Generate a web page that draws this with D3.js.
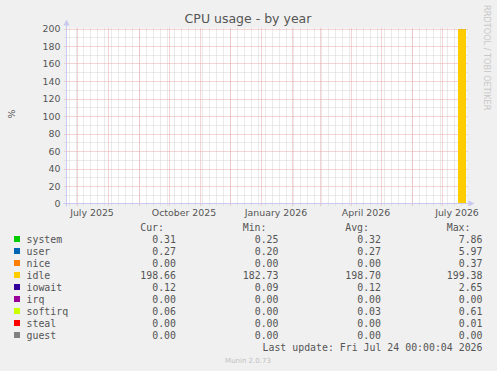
<!DOCTYPE html>
<html>
<head>
<meta charset="utf-8">
<script src="https://cdn.jsdelivr.net/npm/d3@7"></script>
<style>
  html, body { margin: 0; padding: 0; background: #f0f0f0; }
  svg { display: block; }
</style>
</head>
<body>
<div id="chart"></div>
<script>
// Series names and colours (stack order)
const seriesNames = ["system", "user", "nice", "idle", "iowait", "irq", "softirq", "steal", "guest"];
const seriesColors = ["#00cc00", "#0066b3", "#ff8000", "#ffcc00", "#330099", "#990099", "#ccff00", "#ff0000", "#808080"];

// Daily bins that hold data (last eight days)
const binDays = ["2026-07-17", "2026-07-18", "2026-07-19", "2026-07-20", "2026-07-21", "2026-07-22", "2026-07-23", "2026-07-24"];
const systemVals  = [0.36, 0.33, 0.31, 0.30, 0.32, 0.31, 0.33, 0.31];
const userVals    = [0.30, 0.28, 0.26, 0.27, 0.26, 0.27, 0.28, 0.27];
const niceVals    = [0.01, 0.00, 0.00, 0.00, 0.00, 0.00, 0.00, 0.00];
const idleVals    = [198.42, 198.71, 198.79, 198.75, 198.70, 198.72, 198.68, 198.66];
const iowaitVals  = [0.14, 0.12, 0.11, 0.12, 0.12, 0.12, 0.11, 0.12];
const irqVals     = [0.00, 0.00, 0.00, 0.00, 0.00, 0.00, 0.00, 0.00];
const softirqVals = [0.04, 0.03, 0.03, 0.03, 0.03, 0.03, 0.03, 0.06];
const stealVals   = [0.00, 0.00, 0.00, 0.00, 0.00, 0.00, 0.00, 0.00];
const guestVals   = [0.00, 0.00, 0.00, 0.00, 0.00, 0.00, 0.00, 0.00];

// Legend table
const curText = ["0.31", "0.27", "0.00", "198.66", "0.12", "0.00", "0.06", "0.00", "0.00"];
const minText = ["0.25", "0.20", "0.00", "182.73", "0.09", "0.00", "0.00", "0.00", "0.00"];
const avgText = ["0.32", "0.27", "0.00", "198.70", "0.12", "0.00", "0.03", "0.00", "0.00"];
const maxText = ["7.86", "5.97", "0.37", "199.38", "2.65", "0.00", "0.61", "0.01", "0.00"];

// Axis
const yTicks = [0, 20, 40, 60, 80, 100, 120, 140, 160, 180, 200];
const xLabelMonths = ["2025-07-01", "2025-10-01", "2026-01-01", "2026-04-01", "2026-07-01"];
const timeStart = "2025-06-20T12:00:00Z";
const timeEnd = "2026-07-25T12:00:00Z";

const W = 497, H = 371;
const plot = { left: 66.5, right: 466.5, top: 28.5, bottom: 203.5 };

const svg = d3.select("#chart").append("svg")
    .attr("width", W)
    .attr("height", H)
    .style("font-family", "'DejaVu Sans', sans-serif");

svg.append("rect").attr("width", W).attr("height", H).attr("fill", "#f0f0f0");

const x = d3.scaleUtc()
    .domain([new Date(timeStart), new Date(timeEnd)])
    .range([plot.left, plot.right]);
const y = d3.scaleLinear()
    .domain([0, 200])
    .range([plot.bottom, plot.top]);

// canvas
svg.append("rect")
    .attr("x", plot.left).attr("y", plot.top)
    .attr("width", plot.right - plot.left)
    .attr("height", plot.bottom - plot.top)
    .attr("fill", "#ffffff");

const grid = svg.append("g");
const minorCol = "#d4d4d4", majorCol = "#eaa8a8";

// minor horizontal grid (every 10)
grid.selectAll(".hmin")
    .data(d3.range(10, 200, 20))
    .join("line")
    .attr("x1", plot.left - 2).attr("x2", plot.right + 2)
    .attr("y1", d => Math.round(y(d)) + 0.5).attr("y2", d => Math.round(y(d)) + 0.5)
    .attr("stroke", minorCol).attr("stroke-dasharray", "1,1");

// minor vertical grid (weekly)
const weeks = d3.utcMonday.range(x.domain()[0], x.domain()[1]);
grid.selectAll(".vmin")
    .data(weeks)
    .join("line")
    .attr("x1", d => Math.round(x(d)) + 0.5).attr("x2", d => Math.round(x(d)) + 0.5)
    .attr("y1", plot.top).attr("y2", plot.bottom + 2)
    .attr("stroke", minorCol).attr("stroke-dasharray", "1,1");

// major horizontal grid
grid.selectAll(".hmaj")
    .data(yTicks.slice(1))
    .join("line")
    .attr("x1", plot.left - 2).attr("x2", plot.right + 2)
    .attr("y1", d => Math.round(y(d)) + 0.5).attr("y2", d => Math.round(y(d)) + 0.5)
    .attr("stroke", majorCol).attr("stroke-dasharray", "1,1");

// major vertical grid (monthly)
const months = d3.utcMonth.range(x.domain()[0], x.domain()[1]);
grid.selectAll(".vmaj")
    .data(months)
    .join("line")
    .attr("x1", d => Math.round(x(d)) + 0.5).attr("x2", d => Math.round(x(d)) + 0.5)
    .attr("y1", plot.top).attr("y2", plot.bottom + 2)
    .attr("stroke", majorCol).attr("stroke-dasharray", "1,1");

// stacked areas
const valueCols = [systemVals, userVals, niceVals, idleVals, iowaitVals, irqVals, softirqVals, stealVals, guestVals];
const rows = binDays.map((d, i) => {
    const r = { date: new Date(d + "T00:00:00Z") };
    seriesNames.forEach((s, j) => { r[s] = valueCols[j][i]; });
    return r;
});
const stacked = d3.stack().keys(seriesNames)(rows);
const day = 24 * 3600 * 1000;

svg.append("g").selectAll("g")
    .data(stacked)
    .join("g")
    .attr("fill", (d, i) => seriesColors[i])
    .selectAll("rect")
    .data(d => d)
    .join("rect")
    .attr("x", d => x(d.data.date))
    .attr("width", d => x(new Date(+d.data.date + day)) - x(d.data.date))
    .attr("y", d => y(Math.min(200, d[1])))
    .attr("height", d => Math.max(0, y(d[0]) - y(Math.min(200, d[1]))));

// axes lines + arrows
const axisCol = "#c8c8f0";
svg.append("line")
    .attr("x1", plot.left).attr("x2", plot.left)
    .attr("y1", plot.bottom + 3).attr("y2", plot.top - 5)
    .attr("stroke", axisCol);
svg.append("line")
    .attr("x1", plot.left - 3).attr("x2", plot.right + 3)
    .attr("y1", plot.bottom).attr("y2", plot.bottom)
    .attr("stroke", axisCol);
svg.append("path")
    .attr("d", `M${plot.left - 3},${plot.top - 3} L${plot.left},${plot.top - 9} L${plot.left + 3},${plot.top - 3} Z`)
    .attr("fill", axisCol);
svg.append("path")
    .attr("d", `M${plot.right + 2},${plot.bottom - 3} L${plot.right + 8},${plot.bottom} L${plot.right + 2},${plot.bottom + 3} Z`)
    .attr("fill", axisCol);

// y tick labels
svg.append("g").selectAll("text")
    .data(yTicks)
    .join("text")
    .attr("x", 60.5)
    .attr("y", d => y(d) + 3.5)
    .attr("text-anchor", "end")
    .attr("font-size", "9.4px")
    .attr("fill", "#555")
    .text(d => d);

// x labels, centred half a month after the month start
const fmt = d3.utcFormat("%B %Y");
svg.append("g").selectAll("text")
    .data(xLabelMonths.map(d => new Date(d + "T00:00:00Z")))
    .join("text")
    .attr("x", d => x(new Date(+d + 15 * day)))
    .attr("y", 216)
    .attr("text-anchor", "middle")
    .attr("font-size", "9.4px")
    .attr("fill", "#555")
    .text(d => fmt(d));

// title
svg.append("text")
    .attr("x", 248).attr("y", 23)
    .attr("text-anchor", "middle")
    .attr("font-size", "12.5px")
    .attr("fill", "#555")
    .text("CPU usage - by year");

// y axis label
svg.append("text")
    .attr("transform", "translate(15,114) rotate(-90)")
    .attr("text-anchor", "middle")
    .attr("font-size", "9.4px")
    .attr("fill", "#555")
    .text("%");

// watermark
svg.append("text")
    .attr("transform", "translate(484,5) rotate(90)")
    .attr("font-size", "8.2px")
    .attr("fill", "#c8c8c8")
    .text("RRDTOOL / TOBI OETIKER");

// legend
const mono = "'DejaVu Sans Mono', monospace";
const legend = svg.append("g").attr("font-family", mono).attr("font-size", "9.9px").attr("fill", "#555");
const colRight = [176, 278.5, 381, 482.5];
const headers = ["Cur:", "Min:", "Avg:", "Max:"];
legend.selectAll(".hdr")
    .data(headers)
    .join("text")
    .attr("x", (d, i) => colRight[i] - 12)
    .attr("y", 231)
    .attr("text-anchor", "end")
    .text(d => d);

const rowY = i => 243 + i * 12;
legend.selectAll(".sw")
    .data(seriesNames)
    .join("rect")
    .attr("x", 14).attr("y", (d, i) => rowY(i) - 7)
    .attr("width", 6).attr("height", 6)
    .attr("fill", (d, i) => seriesColors[i]);
legend.selectAll(".nm")
    .data(seriesNames)
    .join("text")
    .attr("x", 26.5).attr("y", (d, i) => rowY(i))
    .text(d => d);
[curText, minText, avgText, maxText].forEach((col, c) => {
    legend.selectAll(".c" + c)
        .data(col)
        .join("text")
        .attr("x", colRight[c]).attr("y", (d, i) => rowY(i))
        .attr("text-anchor", "end")
        .text(d => d);
});
legend.append("text")
    .attr("x", 482.5).attr("y", 351)
    .attr("text-anchor", "end")
    .text("Last update: Fri Jul 24 00:00:04 2026");

svg.append("text")
    .attr("x", 248).attr("y", 363)
    .attr("text-anchor", "middle")
    .attr("font-size", "7px")
    .attr("fill", "#c0c0c0")
    .text("Munin 2.0.73");
</script>
</body>
</html>
